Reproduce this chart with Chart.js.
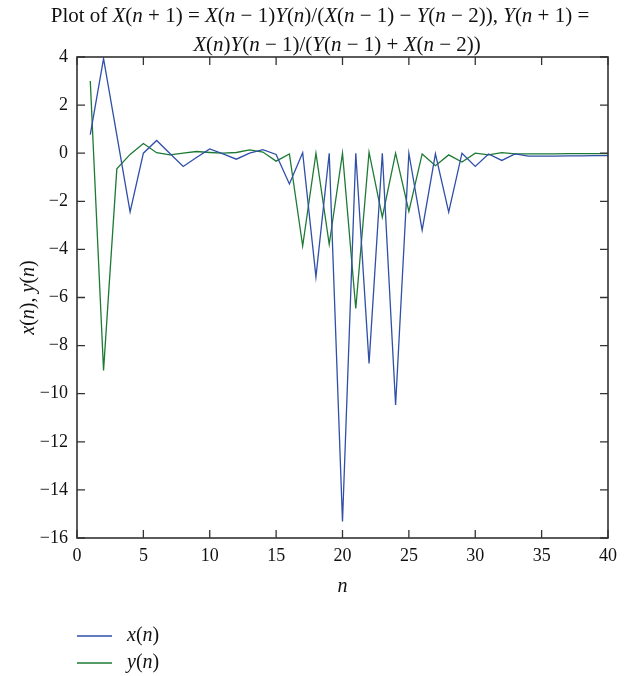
<!DOCTYPE html>
<html>
<head>
<meta charset="utf-8">
<script src="https://cdn.jsdelivr.net/npm/chart.js@4.4.0/dist/chart.umd.min.js"></script>
<style>
  body { margin: 0; background: #fff; }
  #wrap { width: 643px; height: 676px; }
</style>
</head>
<body>
<div id="wrap"><canvas id="plot" width="643" height="676"></canvas></div>
<script>
const nValues = [1, 2, 3, 4, 5, 6, 7, 8, 9, 10, 11, 12, 13, 14, 15, 16, 17, 18, 19, 20,
  21, 22, 23, 24, 25, 26, 27, 28, 29, 30, 31, 32, 33, 34, 35, 36, 37, 38, 39, 40];
const xValues = [0.77, 3.93, 0.75, -2.44, 0.0, 0.53, -0.01, -0.55, -0.18, 0.18,
  -0.03, -0.25, 0.0, 0.15, -0.05, -1.28, 0.02, -5.14, 0.0, -15.31,
  0.0, -8.74, 0.0, -10.47, 0.0, -3.2, -0.03, -2.45, 0.0, -0.55,
  -0.03, -0.3, -0.03, -0.12, -0.12, -0.12, -0.11, -0.11, -0.1, -0.1];
const yValues = [3.0, -9.03, -0.65, -0.05, 0.4, 0.02, -0.07, 0.0, 0.07, 0.03,
  0.0, 0.03, 0.14, 0.05, -0.33, -0.03, -3.86, 0.0, -3.79, 0.0,
  -6.46, 0.04, -2.66, 0.0, -2.42, -0.03, -0.52, -0.07, -0.37, 0.0,
  -0.07, 0.02, -0.03, -0.03, -0.03, -0.03, -0.02, -0.02, -0.02, -0.02];
const xTicks = [0, 5, 10, 15, 20, 25, 30, 35, 40];
const yTicks = [4, 2, 0, -2, -4, -6, -8, -10, -12, -14, -16];
const seriesLabels = ["x(n)", "y(n)"];
const titleLines = [
  "Plot of X(n + 1) = X(n \u2212 1)Y(n)/(X(n \u2212 1) \u2212 Y(n \u2212 2)), Y(n + 1) =",
  "X(n)Y(n \u2212 1)/(Y(n \u2212 1) + X(n \u2212 2))"
];
const xTitle = "n";
const yTitle = "x(n), y(n)";

const serif = "'Liberation Serif', 'DejaVu Serif', serif";
const blue = "#2f4fa8";
const green = "#1d7a34";

// draws text with the variable letters in italic, the rest upright
function drawMath(ctx, text, x0, cy, size, align) {
  const runs = [];
  for (const ch of text) {
    const it = /[XYnxy]/.test(ch);
    const last = runs[runs.length - 1];
    if (last && last.it === it) last.s += ch;
    else runs.push({ s: ch, it });
  }
  let total = 0;
  runs.forEach(r => {
    ctx.font = (r.it ? "italic " : "") + size + "px " + serif;
    r.w = ctx.measureText(r.s).width;
    total += r.w;
  });
  let x = align === "left" ? x0 : x0 - total / 2;
  ctx.textAlign = "left";
  ctx.textBaseline = "middle";
  runs.forEach(r => {
    ctx.font = (r.it ? "italic " : "") + size + "px " + serif;
    ctx.fillText(r.s, x, cy);
    x += r.w;
  });
}

const framePlugin = {
  id: "frame",
  afterDraw(chart) {
    const { ctx, chartArea: a, scales } = chart;
    ctx.save();
    ctx.strokeStyle = "#333";
    ctx.lineWidth = 1.6;
    ctx.strokeRect(a.left, a.top, a.right - a.left, a.bottom - a.top);
    ctx.lineWidth = 1.3;
    ctx.beginPath();
    xTicks.forEach(v => {
      const px = scales.x.getPixelForValue(v);
      ctx.moveTo(px, a.bottom); ctx.lineTo(px, a.bottom - 8);
      ctx.moveTo(px, a.top); ctx.lineTo(px, a.top + 8);
    });
    yTicks.forEach(v => {
      const py = scales.y.getPixelForValue(v);
      ctx.moveTo(a.left, py); ctx.lineTo(a.left + 8, py);
      ctx.moveTo(a.right, py); ctx.lineTo(a.right - 8, py);
    });
    ctx.stroke();

    ctx.fillStyle = "#111";
    drawMath(ctx, titleLines[0], 320, 16, 21);
    drawMath(ctx, titleLines[1], 337, 45, 21);
    drawMath(ctx, xTitle, (a.left + a.right) / 2, 587, 20);
    ctx.save();
    ctx.translate(29, (a.top + a.bottom) / 2);
    ctx.rotate(-Math.PI / 2);
    drawMath(ctx, yTitle, 0, 0, 20);
    ctx.restore();

    // legend
    chart.data.datasets.forEach((ds, i) => {
      const ly = 636 + i * 27;
      ctx.strokeStyle = ds.borderColor;
      ctx.lineWidth = 1.4;
      ctx.beginPath();
      ctx.moveTo(77, ly); ctx.lineTo(112, ly);
      ctx.stroke();
      ctx.fillStyle = "#111";
      drawMath(ctx, ds.label, 127, ly, 20, "left");
    });
    ctx.restore();
  }
};

new Chart(document.getElementById("plot"), {
  type: "line",
  data: {
    labels: nValues,
    datasets: [
      { label: seriesLabels[0], data: nValues.map((n, i) => ({ x: n, y: xValues[i] })),
        borderColor: blue, borderWidth: 1.3, pointRadius: 0, tension: 0, fill: false },
      { label: seriesLabels[1], data: nValues.map((n, i) => ({ x: n, y: yValues[i] })),
        borderColor: green, borderWidth: 1.3, pointRadius: 0, tension: 0, fill: false }
    ]
  },
  options: {
    responsive: false,
    animation: false,
    devicePixelRatio: 1,
    layout: { padding: { top: 57, right: 35, bottom: 76, left: 0 } },
    plugins: { legend: { display: false }, tooltip: { enabled: false } },
    scales: {
      x: {
        type: "linear", min: 0, max: 40,
        afterFit: s => { s.height = 62; },
        afterBuildTicks: s => { s.ticks = xTicks.map(v => ({ value: v })); },
        grid: { display: false, drawTicks: false },
        border: { display: false },
        ticks: { color: "#111", padding: 7, maxRotation: 0, font: { family: serif, size: 18 } }
      },
      y: {
        type: "linear", min: -16, max: 4,
        afterFit: s => { s.width = 77; },
        afterBuildTicks: s => { s.ticks = yTicks.map(v => ({ value: v })); },
        grid: { display: false, drawTicks: false },
        border: { display: false },
        ticks: { color: "#111", padding: 9, font: { family: serif, size: 18 },
          callback: v => String(v).replace("-", "\u2212") }
      }
    }
  },
  plugins: [framePlugin]
});
</script>
</body>
</html>
